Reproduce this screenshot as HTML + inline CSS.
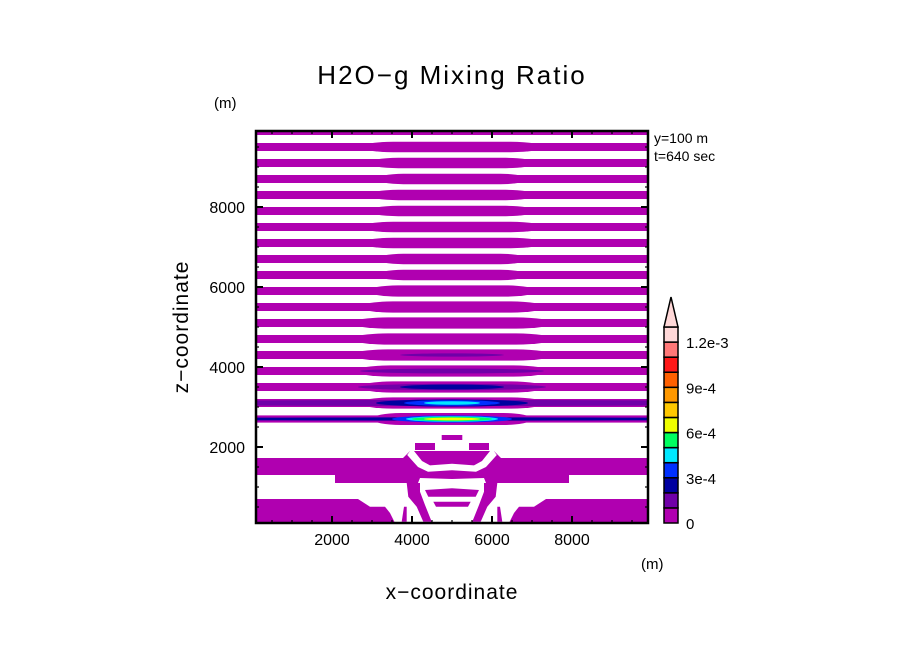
<!DOCTYPE html>
<html><head><meta charset="utf-8"><style>
html,body{margin:0;padding:0;background:#fff;}
svg{display:block;font-family:"Liberation Sans",sans-serif;}
</style></head><body>
<svg id="chart" width="904" height="654" viewBox="0 0 904 654">
<g id="plot"></g>
<g id="axes"></g>
<g id="cbar"></g>
<text x="452" y="84" font-size="26" text-anchor="middle" letter-spacing="2">H2O−g Mixing Ratio</text>
<text x="214" y="108" font-size="15">(m)</text>
<text x="654" y="143" font-size="14">y=100 m</text>
<text x="654" y="161" font-size="14">t=640 sec</text>
<text x="641" y="569" font-size="15">(m)</text>
<text x="452" y="599" font-size="21" text-anchor="middle" letter-spacing="1">x−coordinate</text>
<text transform="translate(188,327) rotate(-90)" font-size="21" text-anchor="middle" letter-spacing="1">z−coordinate</text>
</svg>
<script>
// ---- data ----
const levelColors = ["#b000b0","#7000a8","#0000a0","#0030ff","#00e8ff","#00ff60","#f0ff00","#ffc800","#ff9800","#ff6000","#ff1818","#ff7878","#ffd8d8"];
const levelLabels = ["0","3e-4","6e-4","9e-4","1.2e-3"];
const levelLabelIdx = [0,3,6,9,12];
const xTicks = [2000,4000,6000,8000];
const yTicks = [2000,4000,6000,8000];
const stripeCenters = [9900,9500,9100,8700,8300,7900,7500,7100,6700,6300,5900,5500,5100,4700,4300,3900,3500,3100,2700];
const stripeHalf = [100,100,100,100,100,100,100,100,100,100,100,100,100,100,100,100,100,100,90];
const stripeCoreHalf = [0,130,130,130,130,130,130,130,130,130,140,140,140,140,140,140,140,140,150];
const stripeCoreLen = [0,2300,2100,1900,2100,2100,2300,2300,1900,1900,2100,2300,2500,2500,2500,2400,2300,2300,2000];
// inner lens features: [stripe z, level, half-length (m), half-thickness (m)]
const innerZ =     [4300,3900,3500,3500,3100,3100,3100,3100,2700,2700,2700,2700,2700];
const innerLevel = [1,   1,   1,   2,   1,   2,   3,   4,   2,   3,   4,   5,   6];
const innerLen =   [1300,2300,2350,1300,9000,1900,1200,700, 9000,1500,1150,1000,700];
const innerHalf =  [40,  60,  80,  60,  75,  90,  70,  45,  40,  90,  70,  55,  35];
// lower region: left-half polygons (x,z in metres), mirrored about x=5000; [level(-1=white), points]
const lowerShapes = [
 [0,[[100,1725],[3775,1725],[3950,1900],[5000,1900],[5000,1100],[2075,1100],[2075,1300],[100,1300]]],
 [-1,[[3950,1900],[4050,1900],[4250,1650],[4450,1540],[5000,1580],[5000,1420],[4400,1380],[4150,1500],[3880,1800]]],
 [-1,[[4150,1100],[4200,1225],[5000,1200],[5000,1100]]],
 [0,[[3867,1100],[4200,1100],[4200,883],[4325,550],[4492,133],[4283,133],[4117,508],[3908,758]]],
 [0,[[4325,925],[5000,967],[5000,758],[4408,758]]],
 [0,[[4533,633],[5000,633],[5000,508],[4600,508]]],
 [0,[[4742,2300],[5000,2300],[5000,2175],[4742,2175]]],
 [0,[[4075,2100],[4575,2100],[4575,1925],[4075,1925]]],
 [0,[[100,700],[2650,700],[2950,508],[3325,508],[3450,350],[3575,100],[100,100]]],
 [0,[[3800,508],[3867,508],[3867,133],[3742,133]]]
];
// ---- axis functions ----
const X0=256,X1=648,Y0=523,Y1=131,XMIN=100,XMAX=9900,ZMIN=100,ZMAX=9900;
const sx = x => X0 + (x-XMIN)/(XMAX-XMIN)*(X1-X0);
const sy = z => Y0 - (z-ZMIN)/(ZMAX-ZMIN)*(Y0-Y1);
const NS="http://www.w3.org/2000/svg";
function mk(tag, attrs, parent){const e=document.createElementNS(NS,tag);for(const k in attrs)e.setAttribute(k,attrs[k]);parent.appendChild(e);return e;}
const plot=document.getElementById('plot');
const defs=mk('defs',{},document.getElementById('chart'));
const cp=mk('clipPath',{id:'clip'},defs);
mk('rect',{x:X0,y:Y1,width:X1-X0,height:Y0-Y1},cp);
plot.setAttribute('clip-path','url(#clip)');
// stripes
stripeCenters.forEach((z,i)=>{
  const r=mk('rect',{x:X0,y:sy(z+stripeHalf[i]),width:X1-X0,height:sy(z-stripeHalf[i])-sy(z+stripeHalf[i]),fill:levelColors[0]},plot);
  
  
  if(stripeCoreHalf[i]>0){
    const x1=sx(5000-stripeCoreLen[i]), x2=sx(5000+stripeCoreLen[i]);
    const y1=sy(z+stripeCoreHalf[i]), y2=sy(z-stripeCoreHalf[i]);
    const e=mk('rect',{x:x1,y:y1,width:x2-x1,height:y2-y1,rx:(x2-x1)*0.18,ry:(y2-y1)/2,fill:levelColors[0]},plot);
    
    
  }
});
innerZ.forEach((z,i)=>{
  const e=mk('ellipse',{cx:sx(5000),cy:sy(z),rx:sx(5000+innerLen[i])-sx(5000),ry:sy(z)-sy(z+innerHalf[i]),fill:levelColors[innerLevel[i]]},plot);
  
  
});
lowerShapes.forEach(([lv,pts])=>{
  [false,true].forEach(mir=>{
    const p=pts.map(([x,z])=>sx(mir?10000-x:x).toFixed(1)+','+sy(z).toFixed(1)).join(' ');
    const pg=mk('polygon',{points:p,fill:lv<0?'#fff':levelColors[lv]},plot);
    
    
  });
});
// axes
const ax=document.getElementById('axes');
const frame=mk('rect',{x:X0,y:Y1,width:X1-X0,height:Y0-Y1,fill:'none',stroke:'#000','stroke-width':2.5},ax);


for(let v=500;v<=9500;v+=500){
  const major=v%2000===0, L=major?7:3;
  const x=sx(v), y=sy(v);
  mk('line',{x1:x,y1:Y0,x2:x,y2:Y0-L,stroke:'#000','stroke-width':major?2:1.2},ax);
  mk('line',{x1:x,y1:Y1,x2:x,y2:Y1+L,stroke:'#000','stroke-width':major?2:1.2},ax);
  mk('line',{x1:X0,y1:y,x2:X0+L,y2:y,stroke:'#000','stroke-width':major?2:1.2},ax);
  mk('line',{x1:X1,y1:y,x2:X1-L,y2:y,stroke:'#000','stroke-width':major?2:1.2},ax);
}
xTicks.forEach(v=>{
  const t=mk('text',{x:sx(v),y:545,'font-size':16,'text-anchor':'middle'},ax);t.textContent=v;
  
  
});
yTicks.forEach(v=>{
  const t=mk('text',{x:245,y:sy(v)+6,'font-size':16,'text-anchor':'end'},ax);t.textContent=v;
  
  
});
// colorbar
const cb=document.getElementById('cbar');
const CBX=664,CBW=14,CBB=523,CBT=327,n=levelColors.length,h=(CBB-CBT)/n;
levelColors.forEach((c,i)=>{
  const r=mk('rect',{x:CBX,y:CBB-(i+1)*h,width:CBW,height:h,fill:c,stroke:'#000','stroke-width':1.5},cb);
  
  
});
const tri=mk('polygon',{points:`${CBX},${CBT} ${CBX+CBW},${CBT} ${CBX+CBW/2},${297}`,fill:levelColors[n-1],stroke:'#000','stroke-width':1.5},cb);


levelLabels.forEach((s,i)=>{
  const t=mk('text',{x:686,y:CBB-levelLabelIdx[i]*h+6,'font-size':15},cb);t.textContent=s;
  
  
});
</script>
</body></html>
